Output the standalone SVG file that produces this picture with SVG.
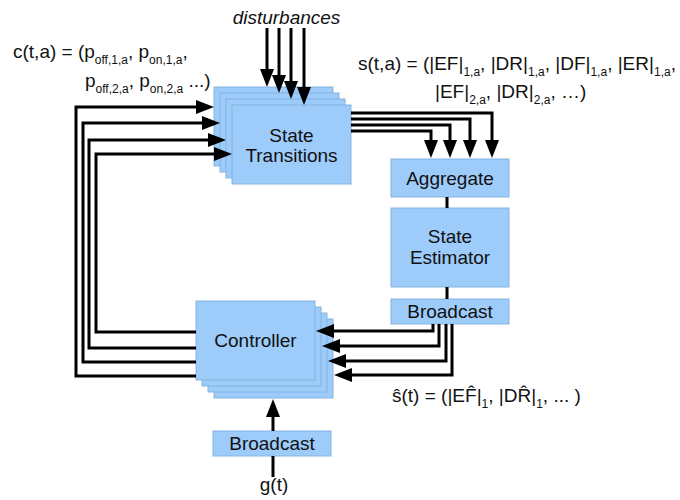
<svg xmlns="http://www.w3.org/2000/svg" width="680" height="500" viewBox="0 0 680 500">
<defs>
<style>
.box{fill:#9dcbfa;stroke:#86b4e0;stroke-width:1}
.t{font-family:"Liberation Sans",Arial,sans-serif;font-size:19px;fill:#111}
.c{text-anchor:middle}
.sub{font-size:12px}
.ln{fill:none;stroke:#000;stroke-width:3;stroke-linejoin:miter}
.ar{marker-end:url(#ah)}
</style>
<marker id="ah" viewBox="0 0 18 14" markerUnits="userSpaceOnUse" markerWidth="18" markerHeight="14" refX="10" refY="7" orient="auto">
<path d="M0,0 L18,7 L0,14 z" fill="#000"/>
</marker>
</defs>
<rect width="680" height="500" fill="#fff"/>

<g id="state-transitions">
<rect class="box" x="214" y="87" width="119" height="79"/>
<rect class="box" x="220" y="93" width="119" height="79"/>
<rect class="box" x="226" y="99" width="119" height="79"/>
<rect class="box" x="232" y="105" width="119" height="79"/>
<text class="t c" x="291.5" y="142">State</text>
<text class="t c" x="291.5" y="162">Transitions</text>
</g>

<g id="controller">
<rect class="box" x="214" y="319" width="119" height="79"/>
<rect class="box" x="208" y="313" width="119" height="79"/>
<rect class="box" x="202" y="307" width="119" height="79"/>
<rect class="box" x="196" y="301" width="119" height="79"/>
<text class="t c" x="255.5" y="347">Controller</text>
</g>

<g id="aggregate">
<rect class="box" x="391" y="159" width="118" height="38"/>
<text class="t c" x="450" y="185">Aggregate</text>
</g>

<g id="state-estimator">
<rect class="box" x="391" y="208" width="118" height="79"/>
<text class="t c" x="450" y="243">State</text>
<text class="t c" x="450" y="264">Estimator</text>
</g>

<g id="broadcast-right">
<rect class="box" x="391" y="299" width="118" height="25"/>
<text class="t c" x="450" y="318">Broadcast</text>
</g>

<g id="broadcast-bottom">
<rect class="box" x="213" y="431" width="118" height="25"/>
<text class="t c" x="272" y="450">Broadcast</text>
</g>

<g id="connectors">
<path class="ln ar" d="M267,28 V79"/>
<path class="ln ar" d="M279,28 V85"/>
<path class="ln ar" d="M291,28 V91"/>
<path class="ln ar" d="M304,28 V97"/>
<path class="ln ar" d="M196,376 H76 V107 H206"/>
<path class="ln ar" d="M196,362 H83 V123 H212"/>
<path class="ln ar" d="M196,348 H89 V140 H218"/>
<path class="ln ar" d="M196,332 H96 V154 H224"/>
<path class="ln ar" d="M351,113 H492 V150"/>
<path class="ln ar" d="M351,119 H470 V150"/>
<path class="ln ar" d="M351,125 H450 V150"/>
<path class="ln ar" d="M351,131 H431 V150"/>
<path class="ln" d="M447,197 V208"/>
<path class="ln" d="M447,287 V299"/>
<path class="ln ar" d="M433,324 V331 H324"/>
<path class="ln ar" d="M439,324 V346 H330"/>
<path class="ln ar" d="M446,324 V361 H336"/>
<path class="ln ar" d="M452,324 V375 H342"/>
<path class="ln ar" d="M273,431 V407"/>
<path class="ln" d="M273,477 V456"/>
</g>

<g id="labels">
<text class="t c" x="286.5" y="24" font-style="italic">disturbances</text>
<text class="t" x="13" y="58">c(t,a) = (p<tspan class="sub" dy="6">off,1,a</tspan><tspan dy="-6">, p</tspan><tspan class="sub" dy="6">on,1,a</tspan><tspan dy="-6">,</tspan></text>
<text class="t" x="85" y="87">p<tspan class="sub" dy="6">off,2,a</tspan><tspan dy="-6">, p</tspan><tspan class="sub" dy="6">on,2,a</tspan><tspan dy="-6"> ...)</tspan></text>
<text class="t" x="358" y="70">s(t,a) = (|EF|<tspan class="sub" dy="6">1,a</tspan><tspan dy="-6">, |DR|</tspan><tspan class="sub" dy="6">1,a</tspan><tspan dy="-6">, |DF|</tspan><tspan class="sub" dy="6">1,a</tspan><tspan dy="-6">, |ER|</tspan><tspan class="sub" dy="6">1,a</tspan><tspan dy="-6">,</tspan></text>
<text class="t" x="435" y="98">|EF|<tspan class="sub" dy="6">2,a</tspan><tspan dy="-6">, |DR|</tspan><tspan class="sub" dy="6">2,a</tspan><tspan dy="-6">, …)</tspan></text>
<text class="t" x="392" y="402">ŝ(t) = (|EF̂|<tspan class="sub" dy="6">1</tspan><tspan dy="-6">, |DR̂|</tspan><tspan class="sub" dy="6">1</tspan><tspan dy="-6">, ... )</tspan></text>
<text class="t c" x="274" y="491">g(t)</text>
</g>
</svg>
